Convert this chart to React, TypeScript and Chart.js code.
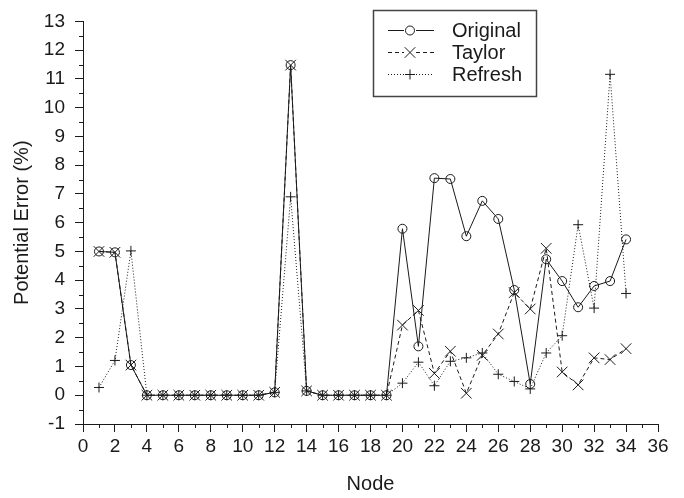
import React, { useEffect, useRef } from "react";
import { Chart, registerables } from "chart.js";

Chart.register(...registerables);

const nodes = [
  1, 2, 3, 4, 5, 6, 7, 8, 9, 10, 11, 12, 13, 14, 15, 16, 17, 18, 19, 20, 21, 22,
  23, 24, 25, 26, 27, 28, 29, 30, 31, 32, 33, 34,
];
const original = [
  5.0, 4.97, 1.05, 0, 0, 0, 0, 0, 0, 0, 0, 0.1, 11.48, 0.15, 0, 0, 0, 0, 0,
  5.79, 1.7, 7.55, 7.52, 5.53, 6.76, 6.13, 3.66, 0.39, 4.73, 3.97, 3.06, 3.8,
  3.97, 5.42,
];
const taylor = [
  5.0, 4.97, 1.05, 0, 0, 0, 0, 0, 0, 0, 0, 0.1, 11.48, 0.15, 0, 0, 0, 0, 0,
  2.44, 2.95, 0.76, 1.53, 0.07, 1.39, 2.13, 3.57, 3.0, 5.11, 0.81, 0.36, 1.3,
  1.24, 1.62,
];
const refresh = [
  0.27, 1.21, 5.02, 0, 0, 0, 0, 0, 0, 0, 0, 0.1, 6.9, 0.15, 0, 0, 0, 0, 0,
  0.42, 1.15, 0.33, 1.18, 1.3, 1.47, 0.73, 0.48, 0.22, 1.47, 2.07, 5.93, 3.03,
  11.16, 3.54,
];
const seriesNames = ["Original", "Taylor", "Refresh"];
const xMinorTicks = [1, 3, 5, 7, 9, 11, 13, 15, 17, 19, 21, 23, 25, 27, 29, 31, 33, 35];
const yMinorTicks = [-0.5, 0.5, 1.5, 2.5, 3.5, 4.5, 5.5, 6.5, 7.5, 8.5, 9.5, 10.5, 11.5, 12.5];

const INK = "#1a1a1a";
const FONT = "'Liberation Sans', Arial, sans-serif";

const toPts = (vals: number[]) => nodes.map((n, i) => ({ x: n, y: vals[i] }));

function drawMarker(ctx: CanvasRenderingContext2D, style: string, x: number, y: number, r: number) {
  ctx.beginPath();
  if (style === "circle") {
    ctx.arc(x, y, r, 0, Math.PI * 2);
  } else if (style === "crossRot") {
    const d = r * Math.SQRT1_2;
    ctx.moveTo(x - d, y - d);
    ctx.lineTo(x + d, y + d);
    ctx.moveTo(x + d, y - d);
    ctx.lineTo(x - d, y + d);
  } else {
    ctx.moveTo(x - r, y);
    ctx.lineTo(x + r, y);
    ctx.moveTo(x, y - r);
    ctx.lineTo(x, y + r);
  }
  ctx.stroke();
}

const minorTicksPlugin = {
  id: "minorTicks",
  afterDraw(chart: any) {
    const { ctx, scales, chartArea } = chart;
    ctx.save();
    ctx.strokeStyle = INK;
    ctx.lineWidth = 1;
    ctx.setLineDash([]);
    ctx.beginPath();
    xMinorTicks.forEach((v) => {
      const px = Math.round(scales.x.getPixelForValue(v)) + 0.5;
      ctx.moveTo(px, chartArea.bottom);
      ctx.lineTo(px, chartArea.bottom + 4);
    });
    yMinorTicks.forEach((v) => {
      const py = Math.round(scales.y.getPixelForValue(v)) + 0.5;
      ctx.moveTo(chartArea.left, py);
      ctx.lineTo(chartArea.left - 4, py);
    });
    ctx.stroke();
    ctx.restore();
  },
};

const legendPlugin = {
  id: "customLegend",
  afterDraw(chart: any) {
    const { ctx } = chart;
    ctx.save();
    const bx = 373.5, by = 10.5, bw = 163, bh = 86;
    ctx.strokeStyle = "#444";
    ctx.lineWidth = 1.5;
    ctx.setLineDash([]);
    ctx.strokeRect(bx, by, bw, bh);
    const rows = [30, 52, 74];
    const dashes = [[], [4, 3], [1, 2]];
    const styles = ["circle", "crossRot", "cross"];
    const radii = [4.5, 7.5, 5];
    chart.data.datasets.forEach((ds: any, i: number) => {
      const y = rows[i] + 0.5;
      ctx.strokeStyle = INK;
      ctx.lineWidth = 1;
      ctx.setLineDash(dashes[i]);
      ctx.beginPath();
      ctx.moveTo(388, y);
      ctx.lineTo(404, y);
      ctx.moveTo(416, y);
      ctx.lineTo(434, y);
      ctx.stroke();
      ctx.setLineDash([]);
      drawMarker(ctx, styles[i], 410, y, radii[i]);
      ctx.fillStyle = INK;
      ctx.font = `20px ${FONT}`;
      ctx.textBaseline = "middle";
      ctx.textAlign = "left";
      ctx.fillText(ds.label, 452, y + 1);
    });
    ctx.restore();
  },
};

export default function App() {
  const ref = useRef<HTMLCanvasElement>(null);
  useEffect(() => {
    document.body.style.margin = "0";
    const chart = new Chart(ref.current as HTMLCanvasElement, {
      type: "line",
      data: {
        datasets: [
          {
            label: seriesNames[0],
            data: toPts(original),
            borderColor: INK,
            borderWidth: 1,
            pointStyle: "circle",
            pointRadius: 4.5,
            pointBorderColor: INK,
            pointBackgroundColor: "rgba(0,0,0,0)",
            pointBorderWidth: 1,
            tension: 0,
          },
          {
            label: seriesNames[1],
            data: toPts(taylor),
            borderColor: INK,
            borderWidth: 1,
            borderDash: [4, 3],
            pointStyle: "crossRot",
            pointRadius: 7.5,
            pointBorderColor: INK,
            pointBorderWidth: 1,
            tension: 0,
          },
          {
            label: seriesNames[2],
            data: toPts(refresh),
            borderColor: INK,
            borderWidth: 1,
            borderDash: [1, 2],
            pointStyle: "cross",
            pointRadius: 5,
            pointBorderColor: INK,
            pointBorderWidth: 1,
            tension: 0,
          },
        ],
      },
      options: {
        responsive: false,
        animation: false,
        devicePixelRatio: 1,
        layout: { padding: { top: 14, right: 26, left: 0, bottom: 0 } },
        plugins: { legend: { display: false }, tooltip: { enabled: false } },
        scales: {
          x: {
            type: "linear",
            min: 0,
            max: 36,
            grid: { drawOnChartArea: false, drawTicks: true, tickLength: 8, color: INK },
            border: { display: true, color: INK, width: 1 },
            ticks: {
              stepSize: 2,
              autoSkip: false,
              maxRotation: 0,
              padding: 3,
              color: INK,
              font: { family: FONT, size: 19 },
            },
            title: {
              display: true,
              text: "Node",
              color: INK,
              font: { family: FONT, size: 20 },
              padding: { top: 0, bottom: 2 },
            },
            afterFit: (s: any) => {
              s.height = 74;
            },
          },
          y: {
            type: "linear",
            min: -1,
            max: 13,
            grid: { drawOnChartArea: false, drawTicks: true, tickLength: 8, color: INK },
            border: { display: true, color: INK, width: 1 },
            ticks: {
              stepSize: 1,
              autoSkip: false,
              padding: 10,
              color: INK,
              font: { family: FONT, size: 19 },
            },
            title: {
              display: true,
              text: "Potential Error (%)",
              color: INK,
              font: { family: FONT, size: 20 },
              padding: { top: 10, bottom: 0 },
            },
            afterFit: (s: any) => {
              s.width = 83;
            },
          },
        },
      },
      plugins: [minorTicksPlugin, legendPlugin],
    });
    return () => chart.destroy();
  }, []);
  return (
    <div style={{ width: 684, height: 498 }}>
      <canvas ref={ref} width={684} height={498} style={{ display: "block" }} />
    </div>
  );
}
